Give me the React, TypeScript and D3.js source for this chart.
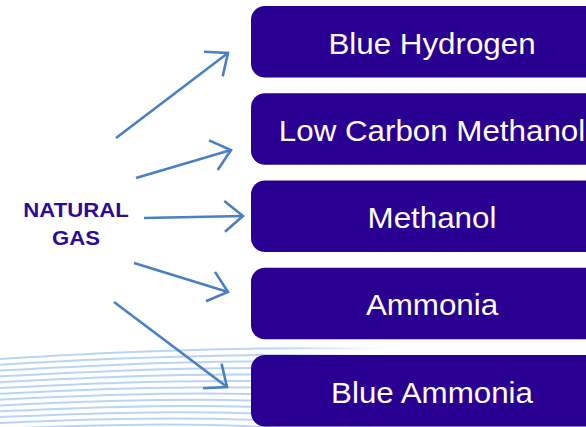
import React from "react";
import * as d3 from "d3";

const W = 586;
const H = 427;

// Products (boxes), top to bottom
const products = ["Blue Hydrogen", "Low Carbon Methanol", "Methanol", "Ammonia", "Blue Ammonia"];
const sourceLines = ["NATURAL", "GAS"];

// Arrow tails and tips [x, y] for each product
const arrowTails: [number, number][] = [[116, 138], [136, 178], [144, 218], [134, 263], [114, 302]];
const arrowTips: [number, number][] = [[228, 53], [231, 150], [243, 216], [228, 292], [227, 387]];

// background wave lines (index list)
const waveIndex = d3.range(14);

const BOX = "#2a0092";
const ARROW = "#4a7fc4";
const WAVE = "#bad4f2";

export default function App() {
  const y = d3.scaleBand<string>().domain(products).range([6, 426.5]).paddingInner(0.18).paddingOuter(0);
  const boxX = 251;
  const boxW = 362;
  const textCx = boxX + boxW / 2;

  const line = d3.line<[number, number]>().curve(d3.curveBasis);

  const wavePath = (i: number) => {
    const y0 = 359 + 5.8 * i;
    const pts: [number, number][] = [
      [-10, y0 + 0.5],
      [120, y0 - 7 + i * 0.2],
      [250, y0 - 11 + i * 0.6],
      [380, y0 - 11 + i * 1.4],
      [520, y0 - 8 + i * 2.4],
    ];
    return line(pts) || "";
  };

  const arrowHead = (tail: [number, number], tip: [number, number]) => {
    const ang = Math.atan2(tip[1] - tail[1], tip[0] - tail[0]);
    const len = 24;
    const spread = (40 * Math.PI) / 180;
    const a1: [number, number] = [tip[0] - len * Math.cos(ang - spread), tip[1] - len * Math.sin(ang - spread)];
    const a2: [number, number] = [tip[0] - len * Math.cos(ang + spread), tip[1] - len * Math.sin(ang + spread)];
    return d3.line()([a1, tip, a2]) || "";
  };

  return (
    <svg
      width={W}
      height={H}
      viewBox={`0 0 ${W} ${H}`}
      style={{ position: "absolute", left: 0, top: 0, background: "#ffffff" }}
    >
      <defs>
        <linearGradient id="waveFade" gradientUnits="userSpaceOnUse" x1="0" y1="0" x2={W} y2="0">
          <stop offset="0" stopColor={WAVE} stopOpacity={1} />
          <stop offset="0.47" stopColor={WAVE} stopOpacity={1} />
          <stop offset="0.66" stopColor={WAVE} stopOpacity={0} />
        </linearGradient>
      </defs>
      <g fill="none" stroke="url(#waveFade)" strokeWidth={2}>
        {waveIndex.map((i) => (
          <path key={i} d={wavePath(i)} />
        ))}
      </g>

      {products.map((p) => {
        const y0 = y(p)!;
        const bh = y.bandwidth();
        return (
          <g key={p}>
            <rect x={boxX} y={y0} width={boxW} height={bh} rx={14} ry={14} fill={BOX} />
            <text
              transform={`translate(${textCx},${y0 + bh / 2 + 12}) scale(1.08,1)`}
              textAnchor="middle"
              fill="#ffffff"
              fontFamily="'Liberation Sans', Arial, sans-serif"
              fontSize={29}
            >
              {p}
            </text>
          </g>
        );
      })}

      {sourceLines.map((s, i) => (
        <text
          key={s}
          transform={`translate(${76},${217 + i * 28}) scale(1.08,1)`}
          textAnchor="middle"
          fill="#2c0a9a"
          fontFamily="'Liberation Sans', Arial, sans-serif"
          fontWeight="bold"
          fontSize={20.5}
        >
          {s}
        </text>
      ))}

      <g fill="none" stroke={ARROW} strokeWidth={2.6} strokeLinecap="butt" strokeLinejoin="miter">
        {arrowTails.map((t, i) => (
          <g key={i}>
            <path d={d3.line()([t, arrowTips[i]]) || ""} />
            <path d={arrowHead(t, arrowTips[i])} />
          </g>
        ))}
      </g>
    </svg>
  );
}
